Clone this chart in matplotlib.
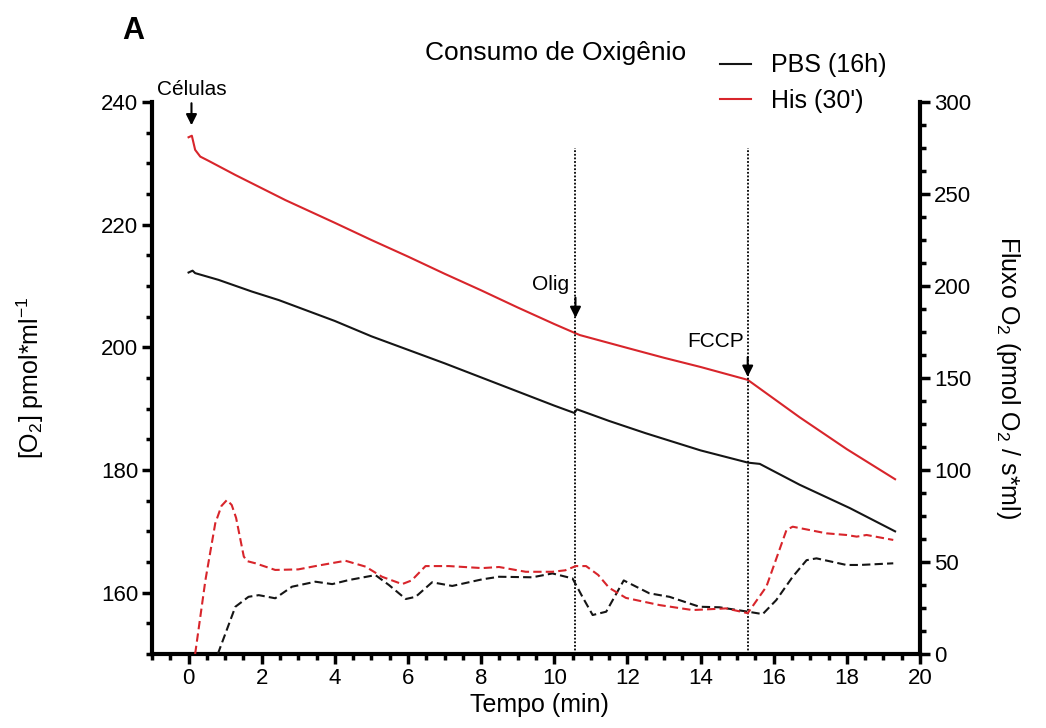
#Import modules
import numpy as np
import matplotlib
matplotlib.use("Agg")
import matplotlib.pyplot as plt
from matplotlib.ticker import MultipleLocator
from matplotlib.lines import Line2D

plt.rcParams['font.family'] = ['Liberation Sans', 'DejaVu Sans']
plt.rcParams['mathtext.fontset'] = 'custom'
plt.rcParams['mathtext.rm'] = 'Liberation Sans'
plt.rcParams['mathtext.it'] = 'Liberation Sans:italic'

#O2 concentration, His (30') - left axis
tHisO2 = [0, 0.09, 0.18, 0.32, 0.55, 1.28, 2.65, 4.0, 5.0, 6.0, 7.0, 8.0, 9.0, 10.0, 10.58,
          10.7, 12.0, 13.0, 14.0, 15.29, 16.71, 18.0, 19.32]
hisO2 = [234.25, 234.5, 232.2, 231.1, 230.4, 228.1, 224.0, 220.3, 217.5, 214.8, 212.0, 209.3,
         206.5, 203.8, 202.3, 202.0, 199.9, 198.3, 196.8, 194.7, 188.6, 183.4, 178.5]

#O2 concentration, PBS (16h) - left axis
tPbsO2 = [0, 0.11, 0.18, 0.82, 1.73, 2.47, 4.0, 5.0, 6.0, 7.0, 8.0, 9.0, 10.0, 10.55, 10.62,
          11.5, 12.5, 14.0, 15.3, 15.62, 16.71, 18.08, 19.32]
pbsO2 = [212.2, 212.5, 212.1, 211.0, 209.1, 207.7, 204.3, 201.8, 199.6, 197.4, 195.1, 192.8,
         190.5, 189.3, 189.9, 188.0, 186.0, 183.2, 181.2, 181.0, 177.6, 173.8, 170.0]

#O2 flux, His (30') - right axis
tHisFlux = [0.18, 0.46, 0.73, 0.9, 1.05, 1.18, 1.3, 1.42, 1.51, 1.6, 1.83, 2.37, 3.0, 3.47,
            4.29, 4.84, 5.29, 5.84, 6.1, 6.48, 7.12, 8.03, 8.49, 9.22, 9.95, 10.3, 10.59, 10.87,
            11.2, 11.5, 11.96, 12.88, 13.78, 14.7, 15.29, 15.8, 16.35, 16.52, 17.44, 17.99,
            18.27, 18.54, 19.27]
hisFlux = [0, 40, 71, 80.5, 83.7, 81, 74, 62, 53, 50.5, 49.3, 45.7, 46, 47.8,
           50.7, 47.5, 42, 38, 40, 47.8, 47.8, 46.7, 47.3, 44.7, 44.7, 45.5, 47.8, 47.8,
           43, 36, 30.5, 26.6, 23.9, 24.8, 22.2, 36.6, 67.4, 69.2, 65.6, 64.7,
           63.8, 64.7, 62]

#O2 flux, PBS (16h) - right axis
tPbsFlux = [0.8, 1.28, 1.64, 1.92, 2.37, 2.83, 3.47, 3.93, 4.38, 5.11, 5.48, 5.94, 6.21, 6.66,
            7.21, 8.03, 8.49, 9.4, 9.95, 10.5, 10.77, 11.05, 11.42, 11.9, 12.6, 13.15, 13.97,
            14.52, 15.3, 15.7, 16.07, 16.52, 16.9, 17.17, 17.99, 18.36, 19.27]
pbsFlux = [0, 25.7, 31.1, 32, 30.3, 36.6, 39.3, 38, 40.2, 42.9, 37.5, 29.9, 31.1, 39,
           37, 40.6, 42, 41.7, 43.8, 41.1, 31.1, 21.2, 23, 40, 33, 31.1, 25.7,
           25.4, 23, 21.7, 29.3, 42, 51, 52, 48.4, 48.4, 49.3]

#Injection times
tOlig = 10.58
tFccp = 15.29
tCel = 0.08

red = '#d8252b'
blk = '#151515'

#Set up the frame
fig = plt.figure(figsize=(10.46, 7.28), dpi=100)
ax = fig.add_axes([0.1453, 0.1016, 0.7342, 0.7583])
ax2 = ax.twinx()

ax.plot(tPbsO2, pbsO2, '-', color=blk, lw=1.5)
ax.plot(tHisO2, hisO2, '-', color=red, lw=1.5)
ax2.plot(tPbsFlux, pbsFlux, color=blk, lw=1.5, ls=(0, (4, 2)))
ax2.plot(tHisFlux, hisFlux, color=red, lw=1.5, ls=(0, (4, 2)))

#Dotted markers for injections
ax.vlines([tOlig, tFccp], 150, 232.5, colors='k', linestyles=(0, (1, 1)), lw=1.3)

#Axis limits and ticks
ax.set_xlim(-1, 20)
ax.set_ylim(150, 240)
ax2.set_ylim(0, 300)
ax.xaxis.set_major_locator(MultipleLocator(2))
ax.xaxis.set_minor_locator(MultipleLocator(0.5))
ax.set_yticks([160, 180, 200, 220, 240])
ax.yaxis.set_minor_locator(MultipleLocator(5))
ax2.yaxis.set_major_locator(MultipleLocator(50))
ax2.yaxis.set_minor_locator(MultipleLocator(12.5))

for a in (ax, ax2):
    a.spines['top'].set_visible(False)
    for s in ('left', 'right', 'bottom'):
        a.spines[s].set_linewidth(3)
    a.tick_params(which='major', length=7, width=2.5, direction='out', labelsize=16, pad=3)
    a.tick_params(which='minor', length=4, width=2.5, direction='out')
ax.spines['right'].set_visible(False)
ax2.spines['left'].set_visible(False)
ax2.spines['bottom'].set_visible(False)

#Labels
ax.set_xlabel("Tempo (min)", fontsize=18)
ax.xaxis.set_label_coords(0.505, -0.07)
ax.set_ylabel("[O$_2$] pmol*ml$^{-1}$", fontsize=18)
ax.yaxis.set_label_coords(-0.138, 0.5)
ax2.set_ylabel("Fluxo O$_2$ (pmol O$_2$ / s*ml)", fontsize=18, rotation=270, va='center')
ax2.yaxis.set_label_coords(1.115, 0.5)

fig.text(0.531, 0.927, "Consumo de Oxigênio", fontsize=19, ha='center', va='center')
fig.text(0.127, 0.958, "A", fontsize=22, fontweight='bold', ha='center', va='center')

#Legend
handles = [Line2D([], [], color=blk, lw=1.5), Line2D([], [], color=red, lw=1.5)]
fig.legend(handles, ["PBS (16h)", "His (30')"], loc='center left', bbox_to_anchor=(0.688, 0.886),
           frameon=False, fontsize=18, handlelength=1.25, handletextpad=0.8, labelspacing=0.45,
           borderpad=0, borderaxespad=0)

#Injection annotations
arrowSty = dict(arrowstyle='-|>', color='k', lw=1.5, mutation_scale=16, shrinkA=0, shrinkB=0)
ax.text(tCel, 242.0, "Células", fontsize=15, ha='center', va='center', clip_on=False)
ax.annotate('', xy=(tCel, 236.2), xytext=(tCel, 239.8), arrowprops=arrowSty, annotation_clip=False)
ax.text(9.91, 210.2, "Olig", fontsize=15, ha='center', va='center')
ax.annotate('', xy=(tOlig, 204.8), xytext=(tOlig, 208.1), arrowprops=arrowSty)
ax.text(14.4, 200.9, "FCCP", fontsize=15, ha='center', va='center')
ax.annotate('', xy=(tFccp, 195.2), xytext=(tFccp, 198.4), arrowprops=arrowSty)

fig.savefig("out.png", dpi=100)
